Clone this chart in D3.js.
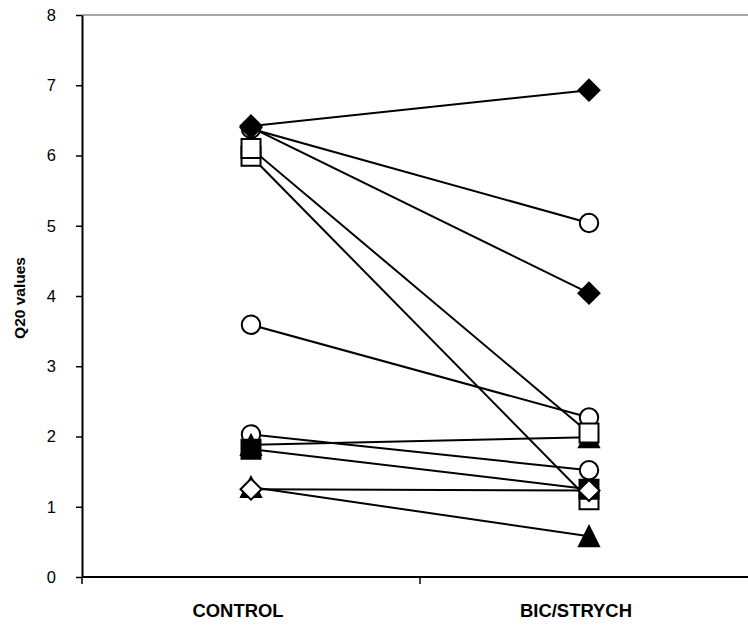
<!DOCTYPE html>
<html>
<head>
<meta charset="utf-8">
<script src="https://cdn.jsdelivr.net/npm/d3@7"></script>
<style>
  html, body { margin: 0; padding: 0; background: #fff; }
  svg { display: block; font-family: "Liberation Sans", Arial, sans-serif; }
</style>
</head>
<body>
<svg id="chart" width="748" height="625"></svg>
<script>
// Categories and tick labels
const categories = ["CONTROL", "BIC/STRYCH"];
const yTicks = [0, 1, 2, 3, 4, 5, 6, 7, 8];

// Paired Q20 values per cell: [CONTROL, BIC/STRYCH]
const circleOpenA     = [6.38, 5.04];
const circleOpenB     = [3.59, 2.27];
const circleOpenC     = [2.03, 1.52];
const triangleFilledA = [1.88, 1.99];
const triangleFilledB = [1.28, 0.58];
const squareOpenB     = [5.99, 1.10];
const squareOpenA     = [6.10, 2.05];
const diamondFilledB  = [6.40, 4.04];
const diamondFilledA  = [6.42, 6.93];
const squareFilledA   = [1.82, 1.25];
const diamondOpenA    = [1.25, 1.23];

// Marker shapes (drawing order: first listed is drawn first)
const seriesList = [
  { values: circleOpenA,     shape: "circle",   filled: false },
  { values: circleOpenB,     shape: "circle",   filled: false },
  { values: circleOpenC,     shape: "circle",   filled: false },
  { values: triangleFilledA, shape: "triangle", filled: true  },
  { values: triangleFilledB, shape: "triangle", filled: true  },
  { values: squareOpenB,     shape: "square",   filled: false },
  { values: squareOpenA,     shape: "square",   filled: false },
  { values: diamondFilledB,  shape: "diamond",  filled: true  },
  { values: diamondFilledA,  shape: "diamond",  filled: true  },
  { values: squareFilledA,   shape: "square",   filled: true  },
  { values: diamondOpenA,    shape: "diamond",  filled: false }
];

const svg = d3.select("#chart");

const x = d3.scaleBand().domain(categories).range([82, 758]).padding(0);
const y = d3.scaleLinear().domain([0, 8]).range([577, 15]);
const cx = c => x(c) + x.bandwidth() / 2;

// Custom marker geometry for d3.symbol
const symbolTypes = {
  circle: { draw(ctx, size) { const r = Math.sqrt(size); ctx.moveTo(r, 0); ctx.arc(0, 0, r, 0, 2 * Math.PI); } },
  square: { draw(ctx, size) { const h = Math.sqrt(size); ctx.rect(-h, -h, 2 * h, 2 * h); } },
  diamond: { draw(ctx, size) { const h = Math.sqrt(size); ctx.moveTo(0, -h); ctx.lineTo(h, 0); ctx.lineTo(0, h); ctx.lineTo(-h, 0); ctx.closePath(); } },
  triangle: { draw(ctx, size) { const h = Math.sqrt(size); ctx.moveTo(0, -h); ctx.lineTo(h, h); ctx.lineTo(-h, h); ctx.closePath(); } }
};
const symbolSize = { circle: 85, square: 90, diamond: 110, triangle: 100 };

// Top border of plot area
svg.append("line")
  .attr("x1", 82).attr("x2", 748)
  .attr("y1", y(8)).attr("y2", y(8))
  .attr("stroke", "#8a8a8a").attr("stroke-width", 1.5);

// Y axis
const yAxis = svg.append("g")
  .attr("transform", "translate(82,0)")
  .call(d3.axisLeft(y).tickValues(yTicks).tickFormat(d3.format("d")).tickSize(6).tickSizeOuter(0).tickPadding(20));
yAxis.select(".domain").attr("stroke", "#000").attr("stroke-width", 2);
yAxis.selectAll(".tick line").attr("stroke", "#000").attr("stroke-width", 1.5);
yAxis.selectAll(".tick text").attr("font-size", 16.5).attr("fill", "#000")
  .attr("font-family", "Liberation Sans, Arial, sans-serif");

// X axis line and category boundary ticks
svg.append("line")
  .attr("x1", 82).attr("x2", 748)
  .attr("y1", y(0)).attr("y2", y(0))
  .attr("stroke", "#000").attr("stroke-width", 2);
const boundaries = categories.map(c => x(c));
svg.selectAll(".xtick").data(boundaries).join("line")
  .attr("class", "xtick")
  .attr("x1", d => d).attr("x2", d => d)
  .attr("y1", y(0)).attr("y2", y(0) + 7)
  .attr("stroke", "#000").attr("stroke-width", 1.5);

// Category labels
svg.selectAll(".xlabel").data(categories).join("text")
  .attr("class", "xlabel")
  .attr("x", d => cx(d) - 13)
  .attr("y", 617)
  .attr("text-anchor", "middle")
  .attr("font-size", 17.5).attr("font-weight", "bold")
  .attr("textLength", d => d === "CONTROL" ? 91 : 112)
  .attr("lengthAdjust", "spacingAndGlyphs")
  .text(d => d);

// Y axis title
svg.append("text")
  .attr("transform", "translate(25,298) rotate(-90)")
  .attr("text-anchor", "middle")
  .attr("font-size", 15.5).attr("font-weight", "bold")
  .text("Q20 values");

// Connecting lines
const line = d3.line()
  .x((d, i) => cx(categories[i]))
  .y(d => y(d));
svg.append("g").selectAll("path").data(seriesList).join("path")
  .attr("d", s => line(s.values))
  .attr("fill", "none").attr("stroke", "#000").attr("stroke-width", 2);

// Markers
const markers = svg.append("g");
seriesList.forEach(s => {
  const sym = d3.symbol().type(symbolTypes[s.shape]).size(symbolSize[s.shape]);
  markers.append("g").selectAll("path").data(s.values).join("path")
    .attr("transform", (d, i) => `translate(${cx(categories[i])},${y(d)})`)
    .attr("d", sym)
    .attr("fill", s.filled ? "#000" : "#fff")
    .attr("stroke", "#000").attr("stroke-width", 2);
});
</script>
</body>
</html>
